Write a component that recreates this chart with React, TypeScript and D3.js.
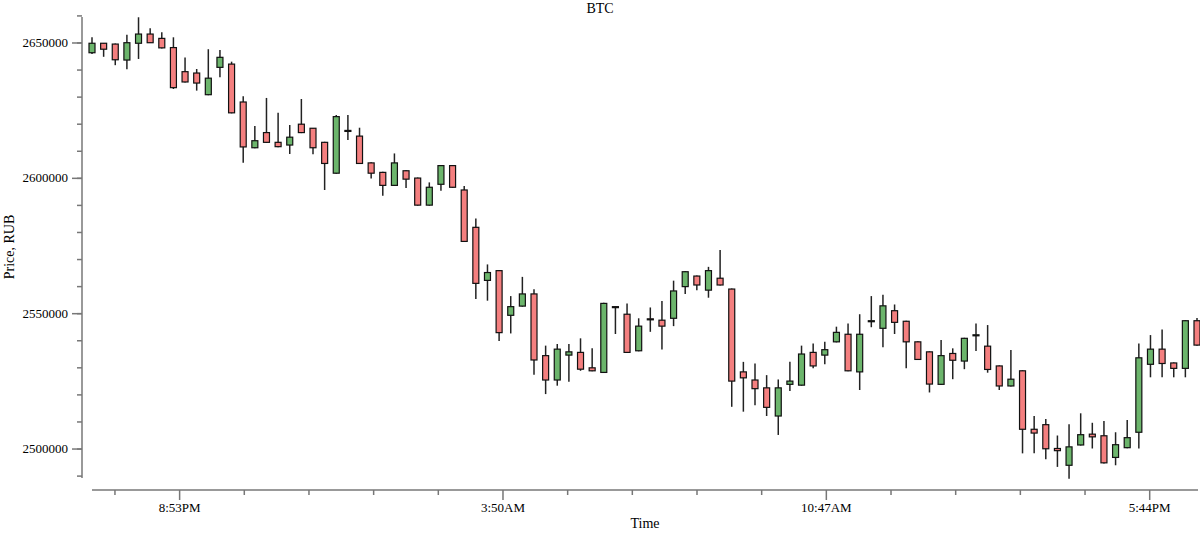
import { useEffect, useRef } from 'react';
import * as d3 from 'd3';

// 15-minute candles, BTC in RUB
const opens = [2646400, 2649900, 2649600, 2643700, 2649900, 2653300, 2651700, 2648300, 2639400, 2638900, 2630900, 2641000, 2642200, 2628200, 2611300, 2616900, 2613300, 2612300, 2620000, 2618500, 2613300, 2601900, 2617700, 2615600, 2605700, 2602200, 2597400, 2602800, 2600100, 2590100, 2597800, 2604700, 2595700, 2581900, 2562300, 2565900, 2549400, 2552800, 2557300, 2534500, 2525500, 2534700, 2535700, 2530000, 2528300, 2552600, 2549800, 2536300, 2548100, 2547600, 2548300, 2560000, 2563900, 2558700, 2563100, 2559100, 2528500, 2525500, 2522600, 2512200, 2523900, 2523600, 2535700, 2534700, 2539600, 2542400, 2528500, 2547200, 2544600, 2551100, 2547200, 2539600, 2535900, 2523900, 2535300, 2532500, 2542000, 2538000, 2530700, 2523300, 2528900, 2507300, 2509000, 2500200, 2494000, 2501500, 2505500, 2504900, 2496900, 2500500, 2506200, 2531300, 2536900, 2531800, 2529800, 2547400];
const closes = [2649900, 2647700, 2643800, 2650100, 2653300, 2650100, 2648200, 2633500, 2635600, 2635200, 2637000, 2644700, 2624200, 2611600, 2613900, 2613300, 2611700, 2615200, 2616900, 2611300, 2605500, 2622800, 2617500, 2605500, 2601900, 2597400, 2605700, 2599700, 2590100, 2596700, 2604700, 2596700, 2576700, 2561200, 2565200, 2543000, 2552600, 2557300, 2532900, 2525500, 2536900, 2535900, 2529500, 2528900, 2553800, 2552300, 2535700, 2545400, 2547900, 2545400, 2558400, 2565500, 2560600, 2565900, 2560600, 2525100, 2526300, 2522300, 2515400, 2522600, 2525100, 2535100, 2530700, 2536700, 2543100, 2528900, 2542400, 2547400, 2552900, 2546800, 2539600, 2533100, 2524000, 2534500, 2532800, 2540900, 2542200, 2529400, 2523300, 2525800, 2507300, 2505900, 2500100, 2499400, 2500800, 2505300, 2504500, 2494900, 2501600, 2504200, 2533700, 2536900, 2531600, 2529800, 2547400, 2538400];
const highs = [2652100, 2650000, 2649800, 2653000, 2659500, 2655400, 2654000, 2652100, 2644600, 2640400, 2647700, 2647400, 2643100, 2630300, 2619300, 2629700, 2624200, 2619700, 2629300, 2618600, 2613500, 2623400, 2623400, 2618700, 2605900, 2602400, 2609200, 2603000, 2600300, 2598500, 2604900, 2604900, 2597200, 2585200, 2568200, 2566100, 2556500, 2563600, 2559000, 2538200, 2538800, 2538800, 2540900, 2537200, 2554000, 2552700, 2553800, 2548300, 2552300, 2554700, 2562200, 2565700, 2564100, 2567300, 2573500, 2559300, 2532200, 2531600, 2527300, 2525700, 2532200, 2538200, 2539000, 2539600, 2545200, 2546400, 2549800, 2556500, 2557000, 2553400, 2547400, 2539800, 2536100, 2540300, 2537200, 2541100, 2546400, 2545800, 2530900, 2536600, 2529100, 2512200, 2511100, 2505000, 2509200, 2513200, 2509700, 2510400, 2506200, 2510700, 2539000, 2542100, 2544200, 2532000, 2547600, 2548400];
const lows = [2645900, 2644900, 2641800, 2640300, 2644100, 2650000, 2648000, 2633000, 2635400, 2632400, 2630700, 2637300, 2624000, 2605800, 2611100, 2613100, 2611500, 2609000, 2616700, 2608900, 2595700, 2601700, 2614200, 2605300, 2599900, 2593600, 2597200, 2596400, 2589900, 2589900, 2595400, 2596500, 2576500, 2555400, 2554800, 2539900, 2542700, 2552600, 2527400, 2520300, 2523400, 2524900, 2528900, 2528700, 2528100, 2542500, 2535500, 2536100, 2543300, 2536800, 2545400, 2557300, 2558700, 2555900, 2560400, 2515600, 2513800, 2516200, 2512200, 2505200, 2521400, 2523400, 2529800, 2531300, 2539400, 2528700, 2521800, 2545000, 2537600, 2542500, 2529800, 2532900, 2520900, 2523700, 2525800, 2529500, 2536200, 2528200, 2521800, 2523100, 2498400, 2498400, 2496200, 2493400, 2489000, 2501300, 2500200, 2494700, 2494000, 2500300, 2500200, 2526500, 2526500, 2526500, 2526500, 2538200];

const startTime = new Date(2024, 0, 1, 19, 0);
const stepMinutes = 15;
const xTickStart = new Date(2024, 0, 1, 19, 29, 36);
const xTickStepMinutes = 83.4;
const xTickCount = 17;
const yTickValues = [2500000, 2550000, 2600000, 2650000];

export default function App() {
  const svgRef = useRef<SVGSVGElement | null>(null);

  useEffect(() => {
    if (!svgRef.current) return;
    const svg = d3.select(svgRef.current);
    svg.selectAll('*').remove();

    const candles = opens.map((o, i) => ({
      t: new Date(startTime.getTime() + i * stepMinutes * 60000),
      o, c: closes[i], h: highs[i], l: lows[i],
    }));

    const x = d3.scaleTime()
      .domain([candles[0].t, candles[candles.length - 1].t])
      .range([92, 1197]);
    const y = d3.scaleLinear().domain([2489300, 2659600]).range([478, 17]);

    const g = svg.append('g').attr('font-family', 'serif');

    // title and axis labels
    g.append('text').attr('x', 600).attr('y', 13).attr('text-anchor', 'middle')
      .attr('font-size', 14).text('BTC');
    g.append('text').attr('x', 645).attr('y', 528).attr('text-anchor', 'middle')
      .attr('font-size', 14).text('Time');
    g.append('text').attr('transform', 'translate(14,247) rotate(-90)')
      .attr('text-anchor', 'middle').attr('font-size', 14).text('Price, RUB');

    // y axis: minor ticks then labelled majors
    const yAxis = g.append('g').attr('transform', 'translate(82,0)');
    yAxis.append('line').attr('x1', 0).attr('x2', 0).attr('y1', 17).attr('y2', 478)
      .attr('stroke', '#777').attr('stroke-width', 1.5);
    const yMinor = d3.range(2490000, 2660001, 10000);
    yAxis.selectAll('line.minor').data(yMinor).join('line')
      .attr('class', 'minor').attr('x1', -5).attr('x2', 0)
      .attr('y1', d => y(d)).attr('y2', d => y(d))
      .attr('stroke', '#777').attr('stroke-width', 1.5);
    yAxis.selectAll('line.major').data(yTickValues).join('line')
      .attr('class', 'major').attr('x1', -10).attr('x2', 0)
      .attr('y1', d => y(d)).attr('y2', d => y(d))
      .attr('stroke', '#777').attr('stroke-width', 1.5);
    yAxis.selectAll('text').data(yTickValues).join('text')
      .attr('x', -14).attr('y', d => y(d)).attr('dy', '0.32em')
      .attr('text-anchor', 'end').attr('font-size', 13).text(d => String(d));

    // x axis
    const fmt = d3.timeFormat('%-I:%M%p');
    const xTicks = d3.range(xTickCount).map(i => new Date(xTickStart.getTime() + i * xTickStepMinutes * 60000));
    const xAxis = g.append('g').attr('transform', 'translate(0,490)');
    xAxis.append('line').attr('x1', 92).attr('x2', 1198).attr('y1', 0).attr('y2', 0)
      .attr('stroke', '#777').attr('stroke-width', 1.5);
    xAxis.selectAll('line.tick').data(xTicks).join('line')
      .attr('class', 'tick')
      .attr('x1', d => x(d)).attr('x2', d => x(d))
      .attr('y1', 0).attr('y2', (d, i) => (i % 5 === 1 ? 10 : 5))
      .attr('stroke', '#777').attr('stroke-width', 1.5);
    xAxis.selectAll('text').data(xTicks.filter((d, i) => i % 5 === 1)).join('text')
      .attr('x', d => x(d)).attr('y', 22).attr('text-anchor', 'middle')
      .attr('font-size', 13).text(d => fmt(d));

    // candles
    const bw = 6;
    const cg = g.append('g');
    cg.selectAll('line').data(candles).join('line')
      .attr('x1', d => x(d.t)).attr('x2', d => x(d.t))
      .attr('y1', d => y(d.h)).attr('y2', d => y(d.l))
      .attr('stroke', '#222').attr('stroke-width', 1.5);
    cg.selectAll('rect').data(candles).join('rect')
      .attr('x', d => x(d.t) - bw / 2)
      .attr('y', d => y(Math.max(d.o, d.c)))
      .attr('width', bw)
      .attr('height', d => Math.max(1, Math.abs(y(d.o) - y(d.c))))
      .attr('fill', d => (d.c >= d.o ? '#6cb56c' : '#f47f7f'))
      .attr('stroke', '#111').attr('stroke-width', 1.2);
  }, []);

  return (
    <svg ref={svgRef} width={1200} height={533}
      style={{ position: 'absolute', left: 0, top: 0, background: '#fff' }} />
  );
}
